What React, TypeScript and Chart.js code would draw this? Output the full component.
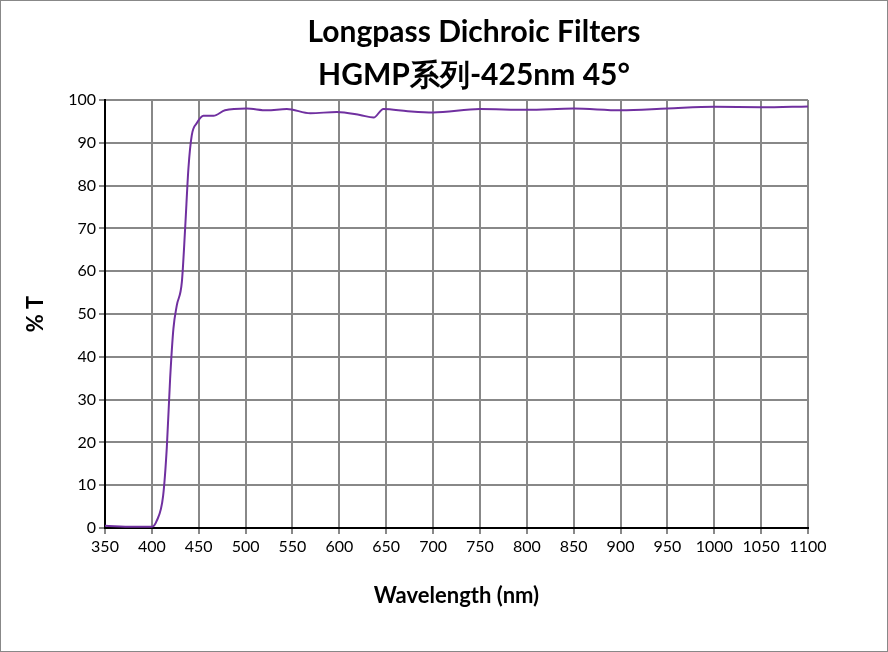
import React, { useEffect, useRef } from "react";
import { Chart, registerables } from "chart.js";
Chart.register(...registerables);

const wavelengths = [350, 380, 400, 405, 412, 416, 419.5, 423, 426.6, 432, 435.5, 439, 442.6, 448, 455, 465.7, 478, 501, 522.7, 544, 569, 597.5, 622, 636.6, 647, 673, 700, 750, 800, 850, 900, 950, 1000, 1050, 1100];
const transmission = [0.5, 0.3, 0.3, 1.6, 7.5, 19, 35, 46.6, 52, 57.5, 70, 84, 91.8, 94.6, 96.3, 96.3, 97.6, 98, 97.6, 97.9, 96.9, 97.2, 96.5, 95.9, 97.9, 97.4, 97.1, 97.9, 97.7, 98, 97.6, 98, 98.4, 98.3, 98.5];
const xTicks = { min: 350, max: 1100, step: 50 };
const yTicks = { min: 0, max: 100, step: 10 };
const titleLines = ["Longpass Dichroic Filters", "HGMP系列-425nm 45°"];

const titlePlugin = {
  id: "customTitle",
  afterDraw(chart: any) {
    const ctx = chart.ctx;
    ctx.save();
    ctx.fillStyle = "#000";
    ctx.font = "bold 30px Lato";
    ctx.textAlign = "center";
    ctx.textBaseline = "middle";
    ctx.fillText(titleLines[0], 473, 31);
    ctx.fillText(titleLines[1], 473, 74);
    ctx.restore();
  },
};

export default function App() {
  const ref = useRef<HTMLCanvasElement>(null);
  useEffect(() => {
    document.body.style.margin = "0";
    const chart = new Chart(ref.current!, {
      type: "line",
      data: {
        datasets: [{
          data: wavelengths.map((x, i) => ({ x, y: transmission[i] })),
          borderColor: "#7030a0", borderWidth: 2, pointRadius: 0, cubicInterpolationMode: "monotone",
        }],
      },
      plugins: [titlePlugin],
      options: {
        animation: false, responsive: false, devicePixelRatio: 1,
        layout: { padding: { top: 99, right: 79, left: 18, bottom: 0 } },
        plugins: { legend: { display: false }, tooltip: { enabled: false }, title: { display: false } },
        scales: {
          x: {
            type: "linear", min: xTicks.min, max: xTicks.max,
            ticks: { stepSize: xTicks.step, color: "#000", font: { family: "Lato", size: 16 }, maxRotation: 0, autoSkip: false, callback: (v: any) => String(v) },
            grid: { color: "#888", lineWidth: 2, tickLength: 6 }, border: { color: "#000", width: 2 },
            title: { display: true, text: "Wavelength (nm)", color: "#000", font: { family: "Lato", size: 22, weight: "bold" }, padding: { top: 4, bottom: 42 } },
            afterFit: (s: any) => { s.height = 123; },
          },
          y: {
            min: yTicks.min, max: yTicks.max,
            ticks: { stepSize: yTicks.step, color: "#000", font: { family: "Lato", size: 16 } },
            grid: { color: "#888", lineWidth: 2, tickLength: 6 }, border: { color: "#000", width: 2 },
            title: { display: true, text: "% T", color: "#000", font: { family: "Lato", size: 22, weight: "bold" } },
            afterFit: (s: any) => { s.width = 86; },
          },
        },
      },
    });
    return () => chart.destroy();
  }, []);
  return (
    <div style={{ width: 886, height: 650, border: "1px solid #888", background: "#fff" }}>
      <canvas ref={ref} width={886} height={650} />
    </div>
  );
}
